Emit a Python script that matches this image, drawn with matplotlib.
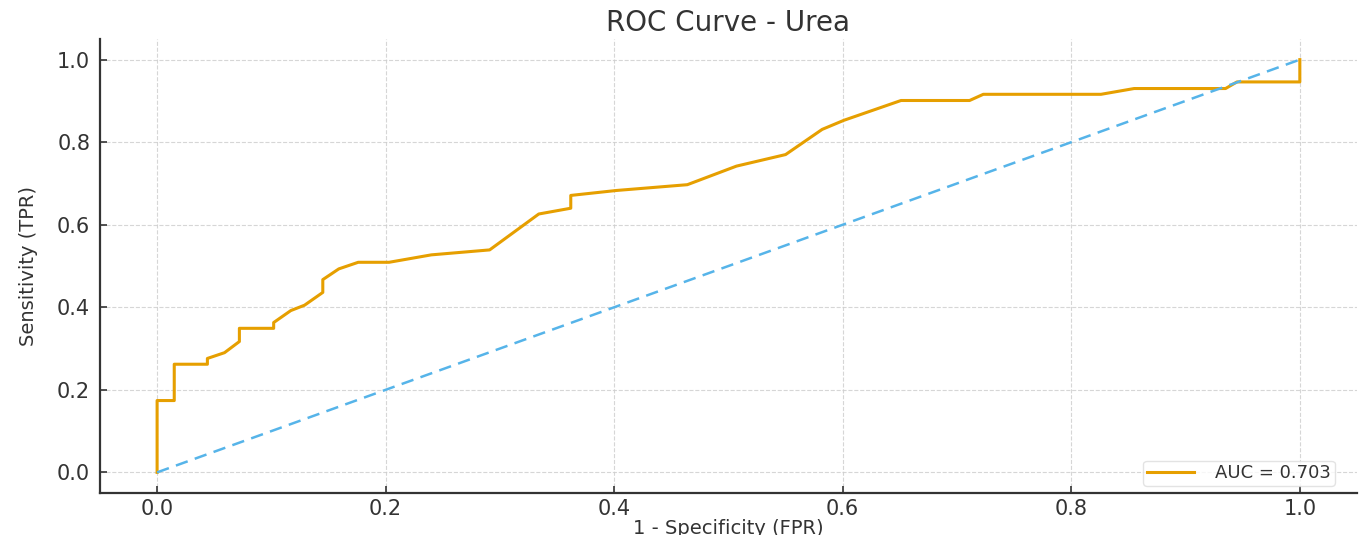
import matplotlib.pyplot as plt

# ROC points (Urea)
fpr = [0.0, 0.0, 0.015, 0.015, 0.044, 0.044, 0.059, 0.072, 0.072, 0.102,
       0.102, 0.117, 0.129, 0.145, 0.145, 0.159, 0.176, 0.203, 0.240, 0.291,
       0.334, 0.362, 0.362, 0.402, 0.464, 0.507, 0.550, 0.582, 0.601,
       0.651, 0.711, 0.723, 0.826, 0.855, 0.935, 0.945, 1.0, 1.0]
tpr = [0.0, 0.174, 0.174, 0.262, 0.262, 0.276, 0.290, 0.317, 0.349, 0.349,
       0.363, 0.392, 0.405, 0.436, 0.467, 0.493, 0.509, 0.509, 0.527, 0.539,
       0.626, 0.640, 0.671, 0.683, 0.697, 0.742, 0.770, 0.831, 0.853,
       0.901, 0.901, 0.916, 0.916, 0.930, 0.930, 0.946, 0.946, 1.0]
auc_value = 0.703
chance = [0.0, 1.0]

orange = '#E69F00'
skyblue = '#56B4E9'

fig = plt.figure(figsize=(13.62, 5.35), dpi=100)
ax = fig.add_axes([0.0734, 0.0785, 0.9229, 0.8486])

ax.plot(fpr, tpr, color=orange, lw=2.2, label=f'AUC = {auc_value:.3f}')
ax.plot(chance, chance, color=skyblue, lw=1.8, ls=(0, (5, 3)))

ax.set_xlim(-0.05, 1.05)
ax.set_ylim(-0.05, 1.05)
ax.set_xticks([0, 0.2, 0.4, 0.6, 0.8, 1.0])
ax.set_yticks([0, 0.2, 0.4, 0.6, 0.8, 1.0])

ax.grid(True, ls='--', lw=0.8, color='#cccccc', alpha=0.8)
for side in ['top', 'right']:
    ax.spines[side].set_visible(False)
for side in ['left', 'bottom']:
    ax.spines[side].set_color('#333333')
    ax.spines[side].set_linewidth(1.6)

ax.tick_params(axis='both', direction='in', length=5, width=1.2, colors='#333333',
               labelsize=15)
ax.tick_params(axis='x', pad=4)
ax.tick_params(axis='y', pad=7)

ax.set_title('ROC Curve - Urea', fontsize=20, color='#333333', pad=6)
ax.set_xlabel('1 - Specificity (FPR)', fontsize=14, color='#333333', labelpad=0)
ax.set_ylabel('Sensitivity (TPR)', fontsize=14, color='#333333', labelpad=14)

ax.legend(loc='lower right', bbox_to_anchor=(0.9825, 0.0154), borderaxespad=0,
          fontsize=13, borderpad=0.2, handlelength=2.6, handletextpad=1.2,
          frameon=True, edgecolor='#dddddd', labelcolor='#333333')

fig.savefig('out.png', dpi=100)
